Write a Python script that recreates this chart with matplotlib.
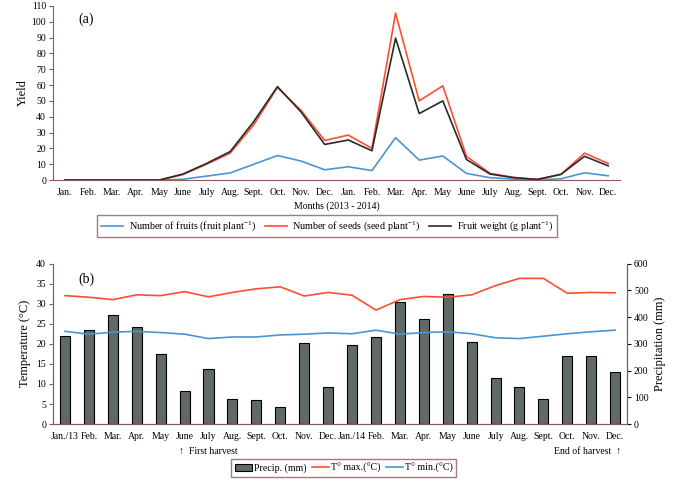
import matplotlib
matplotlib.use('Agg')
import matplotlib.pyplot as plt
import numpy as np
##########################################################################
# Style
#-------------------------------------------------------------------------
plt.rcParams['font.family'] = ['Liberation Serif', 'DejaVu Serif']
plt.rcParams['mathtext.default'] = 'regular'
plt.rcParams['font.size'] = 7

spn = '#8c5a5a'
c_blue = '#4a96d2'
c_red = '#ff4d33'
c_blk = '#2a2a2a'
##########################################################################
# DATA
#-------------------------------------------------------------------------
months_a = ['Jan.', 'Feb.', 'Mar.', 'Apr.', 'May', 'June', 'July', 'Aug.',
            'Sept.', 'Oct.', 'Nov.', 'Dec.'] * 2
months_b = ['Jan./13'] + months_a[1:12] + ['Jan./14'] + months_a[13:]

fruits = [0, 0, 0, 0, 0, 0.5, 2.5, 4.5, 10, 15.5, 12, 6.5,
          8.4, 6, 26.8, 12.6, 15.2, 4.2, 1.5, 0.6, 0.2, 0.8, 4.6, 2.7]
seeds = [0, 0, 0, 0, 0, 3.5, 10, 17, 35, 58.5, 44, 25,
         28.4, 20, 105.4, 50, 59.5, 15, 4.2, 1.7, 0.4, 3.6, 17, 10.5]
weight = [0, 0, 0, 0, 0, 3.8, 10.5, 18, 37, 59, 43, 22.5,
          25.3, 18.5, 89.6, 42, 50, 13, 3.8, 1.5, 0.4, 3.6, 15, 9]

precip = [329, 350, 406, 363, 260, 123, 205, 92, 90, 62, 303, 139,
          296, 327, 456, 392, 486, 306, 174, 138, 93, 253, 253, 194]
tmax = [32.0, 31.6, 31.0, 32.2, 32.0, 33.0, 31.7, 32.8, 33.7, 34.2, 31.9, 32.8,
        32.1, 28.4, 31.0, 31.8, 31.6, 32.2, 34.5, 36.3, 36.3, 32.6, 32.8, 32.7]
tmin = [23.1, 22.4, 22.9, 23.1, 22.8, 22.4, 21.3, 21.7, 21.7, 22.2, 22.4, 22.7,
        22.5, 23.4, 22.4, 22.8, 23.0, 22.5, 21.5, 21.3, 21.9, 22.5, 23.0, 23.4]

x = np.arange(len(months_a))
##########################################################################
# Figure
#-------------------------------------------------------------------------
fig = plt.figure(figsize=(6.77, 4.88), dpi=100)

def style_ax(ax):
    for s in ax.spines.values():
        s.set_color(spn)
    ax.tick_params(axis='x', length=0, pad=6)
    ax.tick_params(axis='y', length=3, color=spn, pad=2)
##########################################################################
# (a) Yield
#-------------------------------------------------------------------------
ax1 = fig.add_axes([0.0783, 0.631, 0.8375, 0.357])
ax1.plot(x, fruits, c=c_blue, lw=1.2, label='Number of fruits (fruit plant$^{-1}$)')
ax1.plot(x, seeds, c=c_red, lw=1.2, label='Number of seeds (seed plant$^{-1}$)')
ax1.plot(x, weight, c=c_blk, lw=1.2, label='Fruit weight (g plant$^{-1}$)')
ax1.set_xlim(-0.5, 23.5)
ax1.set_ylim(0, 110)
ax1.set_yticks(np.arange(0, 111, 10))
ax1.set_xticks(x)
ax1.set_xticklabels(months_a)
ax1.spines['top'].set_visible(False)
ax1.spines['right'].set_visible(False)
style_ax(ax1)
ax1.set_ylabel('Yield', fontsize=9, labelpad=2)
ax1.set_xlabel('Months (2013 - 2014)', fontsize=7, labelpad=3)
ax1.text(0.045, 0.9, '(a)', transform=ax1.transAxes, fontsize=10)
lg1 = fig.legend(loc='center', bbox_to_anchor=(0.483, 0.536), ncol=3,
                 fontsize=7.3, frameon=True, fancybox=False, handlelength=2.2,
                 columnspacing=0.9, handletextpad=0.5, borderpad=0.4)
lg1.get_frame().set_edgecolor(spn)
##########################################################################
# (b) Climate
#-------------------------------------------------------------------------
ax2 = fig.add_axes([0.0783, 0.131, 0.848, 0.329])
ax3 = ax2.twinx()
ax2.set_zorder(ax3.get_zorder() + 1)
ax2.patch.set_visible(False)

b = ax3.bar(x, precip, width=0.42, color='#5f6a67', edgecolor='black', lw=0.8,
            label='Precip. (mm)')
l1, = ax2.plot(x, tmax, c=c_red, lw=1.2, label='T° max.(°C)')
l2, = ax2.plot(x, tmin, c=c_blue, lw=1.2, label='T° min.(°C)')

ax2.set_xlim(-0.5, 23.5)
ax2.set_ylim(0, 40)
ax2.set_yticks(np.arange(0, 41, 5))
ax3.set_ylim(0, 600)
ax3.set_yticks(np.arange(0, 601, 100))
ax2.set_xticks(x)
ax2.set_xticklabels(months_b)
ax2.spines['top'].set_visible(False)
ax3.spines['top'].set_visible(False)
style_ax(ax2)
style_ax(ax3)
ax3.tick_params(axis='y', color='black')
ax3.spines['right'].set_color('black')
ax2.set_ylabel('Temperature (°C)', fontsize=9, labelpad=4)
ax3.set_ylabel('Precipitation (mm)', fontsize=9, labelpad=4)
ax2.text(0.045, 0.88, '(b)', transform=ax2.transAxes, fontsize=10)

fig.text(0.265, 0.075, '↑  First harvest', fontsize=7, ha='left', va='center',
         family=['Liberation Serif', 'DejaVu Sans'])
fig.text(0.918, 0.075, 'End of harvest  ↑', fontsize=7, ha='right', va='center',
         family=['Liberation Serif', 'DejaVu Sans'])

lg2 = fig.legend([b, l1, l2], ['Precip. (mm)', 'T° max.(°C)', 'T° min.(°C)'],
                 loc='center', bbox_to_anchor=(0.508, 0.041), ncol=3, fontsize=7.2,
                 frameon=True, fancybox=False, handlelength=1.7,
                 columnspacing=0.5, handletextpad=0.2, borderpad=0.4)
lg2.get_frame().set_edgecolor(spn)

fig.savefig('out.png', dpi=100)
